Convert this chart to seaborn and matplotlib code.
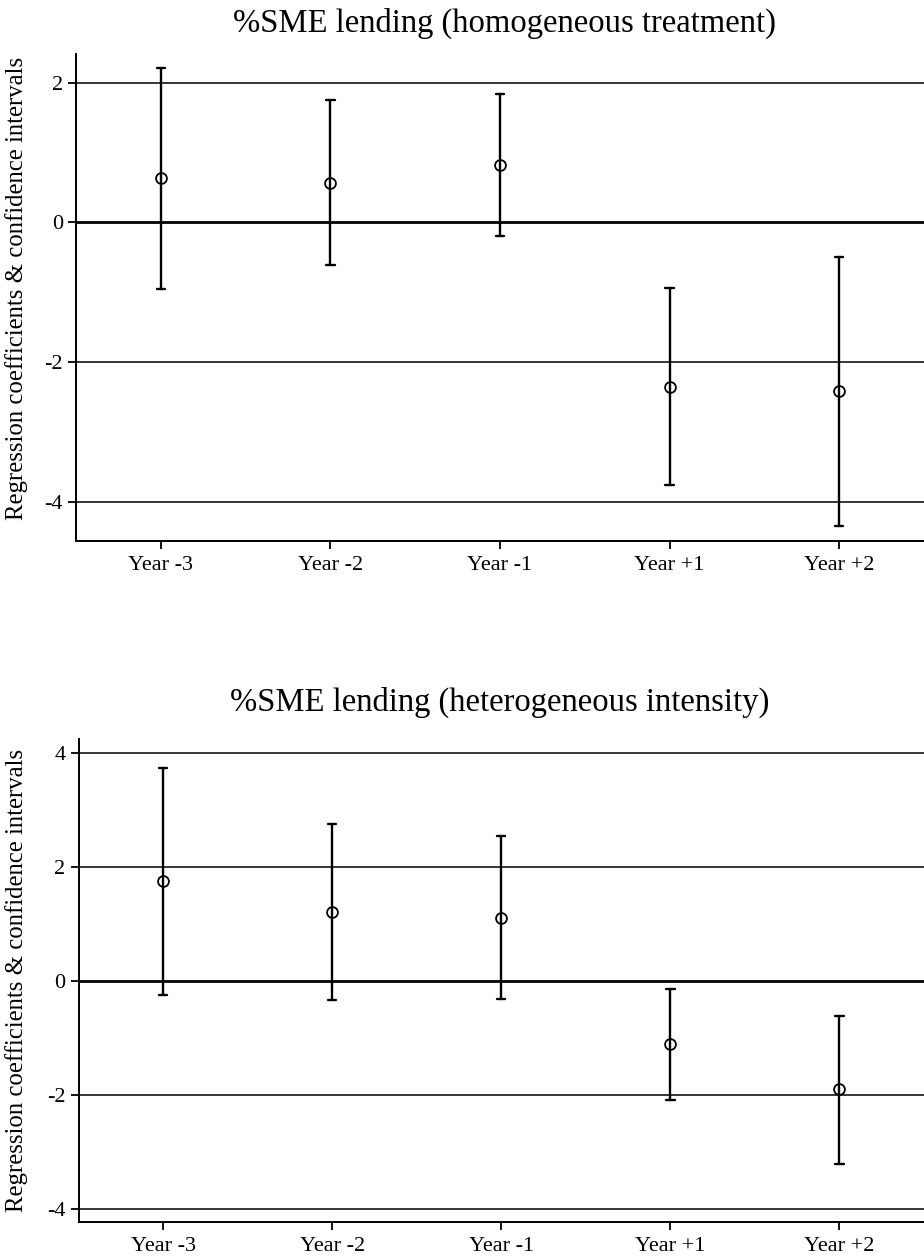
import pandas as pd
import seaborn as sns
import matplotlib.pyplot as plt

# event-study estimates
years = ["Year -3", "Year -2", "Year -1", "Year +1", "Year +2"]

homog_coef = [0.63, 0.57, 0.82, -2.35, -2.42]
homog_lo = [-0.95, -0.61, -0.19, -3.76, -4.35]
homog_hi = [2.21, 1.75, 1.83, -0.94, -0.49]

hetero_coef = [1.75, 1.21, 1.11, -1.10, -1.90]
hetero_lo = [-0.25, -0.33, -0.32, -2.08, -3.20]
hetero_hi = [3.74, 2.75, 2.55, -0.13, -0.61]

sns.set_style("ticks")
plt.rcParams['font.family'] = ['Liberation Serif', 'DejaVu Serif']
plt.rcParams['axes.unicode_minus'] = False
plt.rcParams['text.color'] = 'black'
plt.rcParams['axes.labelcolor'] = 'black'
plt.rcParams['xtick.color'] = 'black'
plt.rcParams['ytick.color'] = 'black'


def long_table(coef, lo, hi):
    # three rows per year: median = estimate, min/max = CI bounds
    rows = []
    for y, c, l, h in zip(years, coef, lo, hi):
        rows += [(y, l), (y, c), (y, h)]
    return pd.DataFrame(rows, columns=['year', 'value'])


def draw(ax, coef, lo, hi, title, yticks, ylim, tpad, tx, lx, ly):
    df = long_table(coef, lo, hi)
    for t in yticks:
        ax.axhline(t, color='black', lw=2.0 if t == 0 else 1.1, zorder=1)
    sns.pointplot(data=df, x='year', y='value', order=years,
                  estimator='median', errorbar=lambda v: (v.min(), v.max()),
                  color='black', markers='o', linestyles='none',
                  markersize=7.8, markerfacecolor='none', markeredgewidth=1.3,
                  capsize=0.05, err_kws={'linewidth': 1.7}, ax=ax, zorder=3)
    ax.set_xlim(-0.5, 4.5)
    ax.set_ylim(*ylim)
    ax.set_yticks(yticks)
    ax.set_yticklabels([str(t) for t in yticks])
    ax.set_xlabel('')
    ax.set_ylabel('Regression coefficients & confidence intervals', fontsize=17.8)
    ax.yaxis.set_label_coords(lx, ly)
    ax.set_title(title, fontsize=23.5, pad=tpad, color='black', x=tx)
    ax.tick_params(axis='both', labelsize=16, length=6, width=1.3, color='black')
    ax.tick_params(axis='x', pad=5)
    sns.despine(ax=ax)
    for s in ['left', 'bottom']:
        ax.spines[s].set_linewidth(1.4)
        ax.spines[s].set_color('black')


fig = plt.figure(figsize=(9.24, 12.58), dpi=100)
ax1 = fig.add_axes([0.0823, 0.5702, 0.9177, 0.3869])
ax2 = fig.add_axes([0.0850, 0.0289, 0.9150, 0.3833])

draw(ax1, homog_coef, homog_lo, homog_hi, '%SME lending (homogeneous treatment)',
     [-4, -2, 0, 2], (-4.557, 2.41), 16, 0.505, -0.057, 0.518)
draw(ax2, hetero_coef, hetero_lo, hetero_hi, '%SME lending (heterogeneous intensity)',
     [-4, -2, 0, 2, 4], (-4.22, 4.24), 21, 0.498, -0.060, 0.50)

fig.savefig('out.png', dpi=100)
